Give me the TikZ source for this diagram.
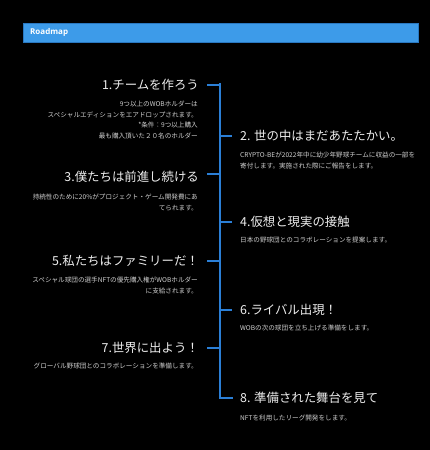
\documentclass[tikz,border=0pt]{standalone}
\usepackage{fontspec}
\newfontfamily\jpfont{Noto Sans CJK JP}
\newfontfamily\headfont{Open Sans}
\usetikzlibrary{calc}
\definecolor{barblue}{HTML}{3D9BE9}
\definecolor{baredge}{HTML}{2A78C0}
\definecolor{lineblue}{HTML}{2B7FD6}
\definecolor{titlewhite}{HTML}{EEEEEE}
\definecolor{bodygray}{HTML}{CFCFCF}

\tikzset{
  milestone/.style={text=titlewhite, font=\jpfont\fontsize{12.4}{14}\selectfont, inner xsep=8pt, inner ysep=0pt},
  detail/.style={text=bodygray, font=\jpfont\fontsize{6.6}{10.5}\selectfont, inner sep=0pt},
  spine/.style={lineblue, line width=2pt},
}

\begin{document}
\begin{tikzpicture}[x=1pt, y=-1pt]
            \fill[black] (0,0) rectangle (430,450);
            \useasboundingbox (0,0) rectangle (430,450);
            % header bar
            \filldraw[fill=barblue, draw=baredge, line width=0.6pt] (23,23) rectangle (418,42);
            \node[anchor=west, text=white, font=\headfont\bfseries\fontsize{8}{9}\selectfont, inner sep=0pt] (head) at (30,32.5) {Roadmap};
            % timeline
            \coordinate (top) at (220,83);
            \coordinate (s1) at (220,85);
            \coordinate (s2) at (220,136);
            \coordinate (s3) at (220,174);
            \coordinate (s4) at (220,222);
            \coordinate (s5) at (220,261);
            \coordinate (s6) at (220,310);
            \coordinate (s7) at (220,348);
            \coordinate (s8) at (220,398);
            \draw[spine] (top) -- (s8);
            % milestones
            \node[milestone, anchor=east] (t1) at (207,85) {1.チームを作ろう};
            \node[milestone, anchor=west] (t2) at (232,136) {2. 世の中はまだあたたかい。};
            \node[milestone, anchor=east] (t3) at (207,177) {3.僕たちは前進し続ける};
            \node[milestone, anchor=west] (t4) at (232,222) {4.仮想と現実の接触};
            \node[milestone, anchor=east] (t5) at (207,261) {5.私たちはファミリーだ！};
            \node[milestone, anchor=west] (t6) at (232,310) {6.ライバル出現！};
            \node[milestone, anchor=east] (t7) at (207,348) {7.世界に出よう！};
            \node[milestone, anchor=west] (t8) at (232,398) {8. 準備された舞台を見て};
            \draw[spine] (s1) -- (s1 -| t1.east);
            \draw[spine] (s2) -- (s2 -| t2.west);
            \draw[spine] (s3) -- (s3 -| t3.east);
            \draw[spine] (s4) -- (s4 -| t4.west);
            \draw[spine] (s5) -- (s5 -| t5.east);
            \draw[spine] (s6) -- (s6 -| t6.west);
            \draw[spine] (s7) -- (s7 -| t7.east);
            \draw[spine, line cap=rect] (s8) -- (s8 -| t8.west);
            % details (base = last line)
            \node[detail, anchor=base east, align=right] (d1) at (198,138)
              {9つ以上のWOBホルダーは\\スペシャルエディションをエアドロップされます。\\*条件：9つ以上購入\\最も購入頂いた２０名のホルダー};
            \node[detail, anchor=base west, align=left] (d2) at (240,168)
              {CRYPTO-BEが2022年中に幼少年野球チームに収益の一部を\\寄付します。実施された際にご報告をします。};
            \node[detail, anchor=base east, align=right] (d3) at (198,210)
              {持続性のために20\%がプロジェクト・ゲーム開発費にあ\\てられます。};
            \node[detail, anchor=base west, align=left] (d4) at (240,242.5)
              {日本の野球団とのコラボレーションを提案します。};
            \node[detail, anchor=base east, align=right] (d5) at (198,293)
              {スペシャル球団の選手NFTの優先購入権がWOBホルダー\\に支給されます。};
            \node[detail, anchor=base west, align=left] (d6) at (240,330.5)
              {WOBの次の球団を立ち上げる準備をします。};
            \node[detail, anchor=base east, align=right] (d7) at (198,368.5)
              {グローバル野球団とのコラボレーションを準備します。};
            \node[detail, anchor=base west, align=left] (d8) at (240,420.5)
              {NFTを利用したリーグ開発をします。};
          \end{tikzpicture}
\end{document}
